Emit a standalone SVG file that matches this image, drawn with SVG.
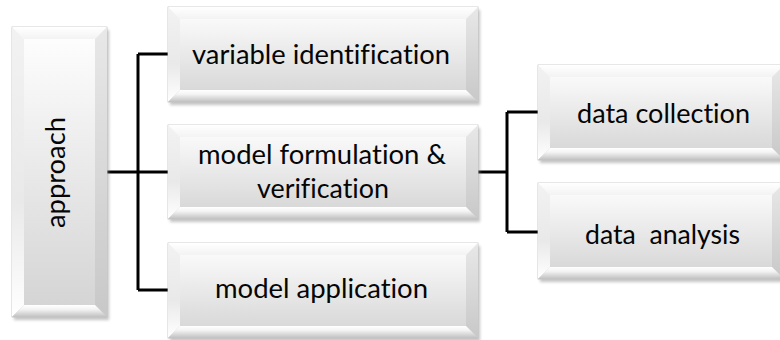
<svg xmlns="http://www.w3.org/2000/svg" width="780" height="340" viewBox="0 0 780 340">
  <style>
    .base { fill: url(#faceGrad); stroke: #c4c4c4; stroke-width: 0.8; }
    .shadow { fill: #8a8a8a; opacity: 0.5; filter: url(#soft); }
    .bev-top { fill: url(#topGrad); }
    .bev-left { fill: url(#leftGrad); }
    .bev-right { fill: url(#rightGrad); }
    .bev-bottom { fill: url(#bottomGrad); }
    .label { font-family: Lato, "Open Sans", "Liberation Sans", sans-serif; font-size: 26px; fill: #050505; text-anchor: middle; font-variant-ligatures: none; }
    .wire { fill: none; stroke: #000000; stroke-width: 3; stroke-linejoin: miter; }
  </style>
  <defs>
    <linearGradient id="faceGrad" x1="0" y1="0" x2="0" y2="1">
      <stop offset="0" stop-color="#ffffff"/>
      <stop offset="1" stop-color="#d3d3d3"/>
    </linearGradient>
    <linearGradient id="topGrad" x1="0" y1="0" x2="0" y2="1">
      <stop offset="0" stop-color="#ffffff"/>
      <stop offset="1" stop-color="#f3f3f3"/>
    </linearGradient>
    <linearGradient id="leftGrad" x1="0" y1="0" x2="0" y2="1">
      <stop offset="0" stop-color="#f2f2f2"/>
      <stop offset="0.6" stop-color="#e9e9e9"/>
      <stop offset="1" stop-color="#ffffff"/>
    </linearGradient>
    <linearGradient id="rightGrad" x1="0" y1="0" x2="0" y2="1">
      <stop offset="0" stop-color="#e8e8e8"/>
      <stop offset="1" stop-color="#c8c8c8"/>
    </linearGradient>
    <linearGradient id="bottomGrad" x1="0" y1="0" x2="0" y2="1">
      <stop offset="0" stop-color="#ffffff"/>
      <stop offset="0.35" stop-color="#f4f4f4"/>
      <stop offset="1" stop-color="#c0c0c0"/>
    </linearGradient>
    <filter id="soft" x="-10%" y="-10%" width="120%" height="130%">
      <feGaussianBlur stdDeviation="1.8"/>
    </filter>
  </defs>

  <rect width="780" height="340" fill="#ffffff"/>

  <!-- connectors -->
  <g id="connectors">
    <path class="wire" d="M107 172 H138 M138 54 V290 M138 54 H168 M138 172 H168 M138 290 H168"/>
    <path class="wire" d="M478 172 H507 M507 112 V232 M507 112 H538 M507 232 H538"/>
  </g>

  <!-- approach -->
  <g id="approach">
    <rect class="shadow" x="14" y="30" width="95" height="290"/>
    <rect class="base" x="12" y="27" width="95" height="290"/>
    <polygon class="bev-top" points="12,27 107,27 95,39 24,39"/>
    <polygon class="bev-left" points="12,27 24,39 24,305 12,317"/>
    <polygon class="bev-right" points="107,27 107,317 95,305 95,39"/>
    <polygon class="bev-bottom" points="12,317 24,305 95,305 107,317"/>
    <text class="label" transform="translate(65 172.5) rotate(-90)" textLength="111" lengthAdjust="spacingAndGlyphs">approach</text>
  </g>

  <!-- variable identification -->
  <g id="variable-identification">
    <rect class="shadow" x="170" y="10" width="310" height="95"/>
    <rect class="base" x="168" y="7" width="310" height="95"/>
    <polygon class="bev-top" points="168,7 478,7 466,19 180,19"/>
    <polygon class="bev-left" points="168,7 180,19 180,90 168,102"/>
    <polygon class="bev-right" points="478,7 478,102 466,90 466,19"/>
    <polygon class="bev-bottom" points="168,102 180,90 466,90 478,102"/>
    <text class="label" x="321" y="64" textLength="258" lengthAdjust="spacingAndGlyphs">variable identification</text>
  </g>

  <!-- model formulation & verification -->
  <g id="model-formulation">
    <rect class="shadow" x="170" y="128" width="310" height="94"/>
    <rect class="base" x="168" y="125" width="310" height="94"/>
    <polygon class="bev-top" points="168,125 478,125 466,137 180,137"/>
    <polygon class="bev-left" points="168,125 180,137 180,207 168,219"/>
    <polygon class="bev-right" points="478,125 478,219 466,207 466,137"/>
    <polygon class="bev-bottom" points="168,219 180,207 466,207 478,219"/>
    <text class="label" x="322" y="164" textLength="248" lengthAdjust="spacingAndGlyphs">model formulation &amp;</text>
    <text class="label" x="323" y="198" textLength="132" lengthAdjust="spacingAndGlyphs">verification</text>
  </g>

  <!-- model application -->
  <g id="model-application">
    <rect class="shadow" x="170" y="246" width="310" height="95"/>
    <rect class="base" x="168" y="243" width="310" height="95"/>
    <polygon class="bev-top" points="168,243 478,243 466,255 180,255"/>
    <polygon class="bev-left" points="168,243 180,255 180,326 168,338"/>
    <polygon class="bev-right" points="478,243 478,338 466,326 466,255"/>
    <polygon class="bev-bottom" points="168,338 180,326 466,326 478,338"/>
    <text class="label" x="321.5" y="298" textLength="213" lengthAdjust="spacingAndGlyphs">model application</text>
  </g>

  <!-- data collection -->
  <g id="data-collection">
    <rect class="shadow" x="540" y="68" width="246" height="95"/>
    <rect class="base" x="538" y="65" width="246" height="95"/>
    <polygon class="bev-top" points="538,65 784,65 772,77 550,77"/>
    <polygon class="bev-left" points="538,65 550,77 550,148 538,160"/>
    <polygon class="bev-right" points="784,65 784,160 772,148 772,77"/>
    <polygon class="bev-bottom" points="538,160 550,148 772,148 784,160"/>
    <text class="label" x="663.5" y="123" textLength="173" lengthAdjust="spacingAndGlyphs">data collection</text>
  </g>

  <!-- data analysis -->
  <g id="data-analysis">
    <rect class="shadow" x="540" y="186" width="246" height="96"/>
    <rect class="base" x="538" y="183" width="246" height="96"/>
    <polygon class="bev-top" points="538,183 784,183 772,195 550,195"/>
    <polygon class="bev-left" points="538,183 550,195 550,267 538,279"/>
    <polygon class="bev-right" points="784,183 784,279 772,267 772,195"/>
    <polygon class="bev-bottom" points="538,279 550,267 772,267 784,279"/>
    <text class="label" x="662.5" y="244" textLength="155" lengthAdjust="spacingAndGlyphs" xml:space="preserve">data  analysis</text>
  </g>
</svg>
